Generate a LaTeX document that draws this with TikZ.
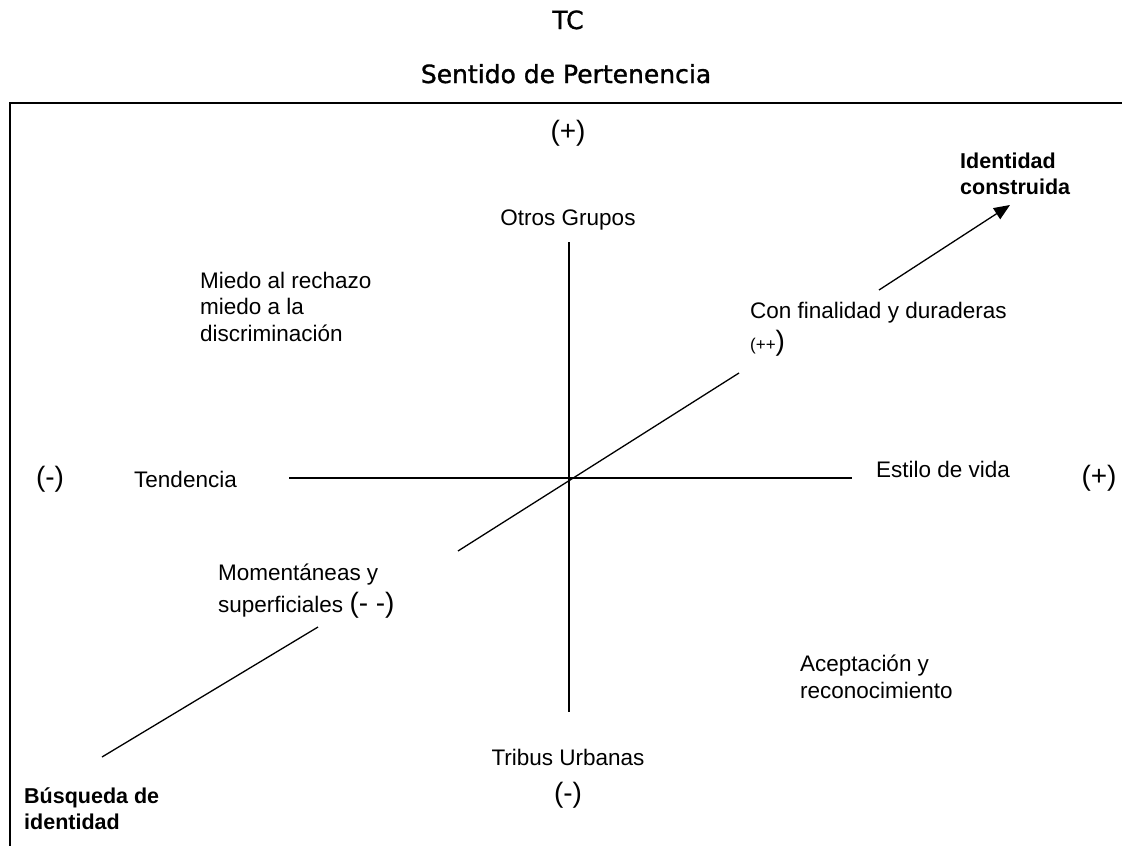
\documentclass[tikz,border=0pt]{standalone}
\usepackage{fontspec}
\setmainfont{Liberation Sans}
\newfontfamily\titlefont[FakeBold=1.2]{DejaVu Sans}
\usetikzlibrary{arrows.meta}
\begin{document}
\begin{tikzpicture}[x=1pt,y=-1pt,
  lbl/.style={font=\fontsize{22.5}{26.5}\selectfont, inner sep=0pt, align=left},
  bld/.style={font=\fontsize{21.5}{26}\selectfont\bfseries, inner sep=0pt, align=left},
  sgn/.style={font=\fontsize{28}{30}\selectfont, inner sep=0pt},
  ttl/.style={font=\titlefont\fontsize{25}{28}\selectfont, inner sep=0pt},
  axisline/.style={line width=1.3pt},
  frameline/.style={line width=2pt},
  arr/.style={line width=1.3pt, -{Triangle[length=16pt,width=13pt]}}]
\useasboundingbox (0,0) rectangle (1122,846);

% titles
\node[ttl, anchor=base] (tc) at (568,29) {TC};
\node[ttl, anchor=base] (sp) at (566,83) {Sentido de Pertenencia};

% frame (open at right and bottom)
\coordinate (fbl) at (10,846);
\coordinate (ftl) at (10,103);
\coordinate (ftr) at (1122,103);
\draw[frameline] (fbl) -- (ftl) -- (ftr);

% signs
\node[sgn, anchor=base] (ptop) at (568,140) {(+)};
\node[sgn, anchor=base] (mbot) at (568,802) {(-)};
\node[sgn, anchor=base] (mleft) at (50,486) {(-)};
\node[sgn, anchor=base] (pright) at (1099,485) {(+)};

% axes
\coordinate (vtop) at (569,242);
\coordinate (vbot) at (569,712);
\coordinate (hleft) at (289,478);
\coordinate (hright) at (852,478);
\draw[axisline] (vtop) -- (vbot);
\draw[axisline] (hleft) -- (hright);

% diagonal
\coordinate (dlo) at (458,551);
\coordinate (dhi) at (739,373);
\draw[axisline] (dlo) -- (dhi);
\coordinate (llo) at (102,757);
\coordinate (lhi) at (318,627);
\draw[axisline] (llo) -- (lhi);
\coordinate (ulo) at (879,290);
\coordinate (uhi) at (1010,205);
\draw[arr] (ulo) -- (uhi);

% labels
\node[lbl, anchor=base] (otros) at (568,225) {Otros Grupos};
\node[lbl, anchor=base] (tribus) at (568,765) {Tribus Urbanas};
\node[lbl, anchor=base west] (tend) at (134,487) {Tendencia};
\node[lbl, anchor=base west] (estilo) at (876,477) {Estilo de vida};
\node[lbl, anchor=base west] (miedo) at (200,341) {Miedo al rechazo\\miedo a la\\discriminación};
\node[lbl, anchor=base west] (con) at (750,350) {Con finalidad y duraderas\\[5pt]{\fontsize{17}{20}\selectfont(++}{\fontsize{28}{30}\selectfont)}};
\node[lbl, anchor=base west] (momen) at (218,612) {Momentáneas y\\[5pt]superficiales {\fontsize{28}{30}\selectfont(- -)}};
\node[lbl, anchor=base west] (acep) at (800,698) {Aceptación y\\reconocimiento};
\node[bld, anchor=base west] (ident) at (960,194) {Identidad\\construida};
\node[bld, anchor=base west] (busq) at (24,829) {Búsqueda de\\identidad};
\end{tikzpicture}
\end{document}
